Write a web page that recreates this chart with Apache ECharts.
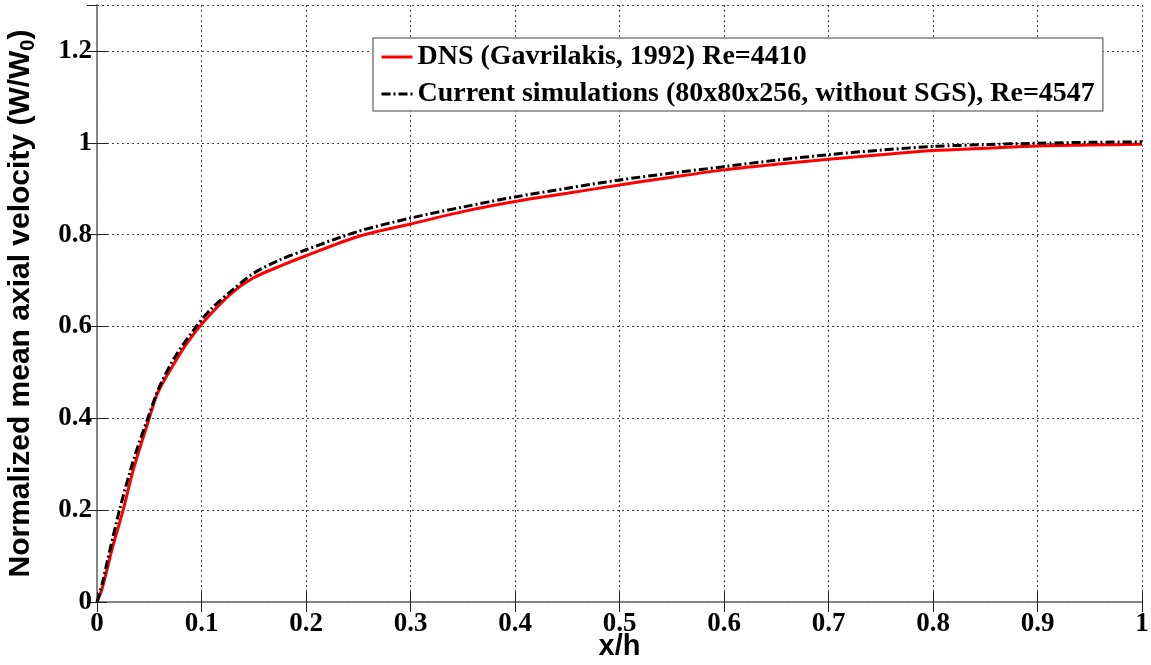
<!DOCTYPE html>
<html>
<head>
<meta charset="utf-8">
<script src="https://cdn.jsdelivr.net/npm/echarts@6/dist/echarts.min.js"></script>
<style>
  html, body { margin: 0; padding: 0; background: #fff; }
  #chart { width: 1151px; height: 665px; }
</style>
</head>
<body>
<div id="chart"></div>
<script>
// Mean axial velocity profiles, x/h versus W/W0
const seriesNames = [
  'DNS (Gavrilakis, 1992) Re=4410',
  'Current simulations (80x80x256, without SGS), Re=4547'
];

const dnsX = [0, 0.005, 0.015, 0.025, 0.035, 0.05, 0.058, 0.074, 0.085, 0.1, 0.127, 0.149, 0.178, 0.2, 0.25, 0.3, 0.35, 0.4, 0.45, 0.5, 0.55, 0.6, 0.65, 0.7, 0.75, 0.8, 0.85, 0.9, 0.95, 1.0];
const dnsY = [0, 0.03, 0.12, 0.2, 0.29, 0.40, 0.455, 0.52, 0.56, 0.605, 0.669, 0.705, 0.734, 0.754, 0.796, 0.823, 0.85, 0.872, 0.89, 0.908, 0.925, 0.941, 0.953, 0.964, 0.974, 0.983, 0.988, 0.993, 0.995, 0.997];

const simX = [0, 0.005, 0.01, 0.0215, 0.035, 0.0486, 0.06, 0.075, 0.095, 0.11, 0.13, 0.15, 0.175, 0.2, 0.25, 0.3, 0.35, 0.4, 0.45, 0.5, 0.55, 0.6, 0.65, 0.7, 0.75, 0.8, 0.85, 0.9, 0.95, 1.0];
const simY = [0, 0.04, 0.09, 0.2, 0.31, 0.4, 0.47, 0.535, 0.6, 0.64, 0.68, 0.716, 0.745, 0.767, 0.807, 0.836, 0.86, 0.882, 0.901, 0.919, 0.934, 0.948, 0.962, 0.974, 0.984, 0.992, 0.996, 0.999, 1.001, 1.002];

const xTitle = 'x/h';
const yTitle = 'Normalized mean axial velocity (W/W{sub|0})';

const pair = (xs, ys) => xs.map((x, i) => [x, ys[i]]);

const serifBold = { fontFamily: 'Liberation Serif', fontWeight: 'bold', color: '#000' };
const sansBold = { fontFamily: 'Liberation Sans', fontWeight: 'bold', color: '#000' };
const gridDots = { show: true, lineStyle: { color: '#444', type: [2, 3], width: 1 } };
const boxLine = { show: true, lineStyle: { color: '#808080', width: 1.5 } };
const innerTick = { show: true, inside: true, length: 10, lineStyle: { color: '#222', width: 1 } };

const chart = echarts.init(document.getElementById('chart'), null, { renderer: 'canvas' });
chart.setOption({
  backgroundColor: '#fff',
  animation: false,
  grid: { left: 97, right: 9, top: 5, bottom: 63, containLabel: false, outerBoundsMode: 'none' },
  legend: {
    data: seriesNames,
    orient: 'vertical',
    left: 373,
    top: 38,
    itemWidth: 31,
    itemHeight: 14,
    itemGap: 9,
    padding: [5, 8, 3, 7],
    backgroundColor: '#fff',
    borderColor: '#808080',
    borderWidth: 1.5,
    borderRadius: 0,
    itemStyle: { opacity: 0 },
    lineStyle: { width: 3 },
    textStyle: Object.assign({ fontSize: 28, lineHeight: 28 }, serifBold)
  },
  xAxis: [{
    type: 'value', min: 0, max: 1, interval: 0.1,
    name: xTitle, nameLocation: 'middle', nameGap: 30, nameMoveOverlap: false,
    nameTextStyle: Object.assign({ fontSize: 29 }, sansBold),
    axisLine: boxLine, axisTick: innerTick, splitLine: gridDots,
    axisLabel: Object.assign({ fontSize: 27, margin: 9 }, serifBold)
  }, {
    type: 'value', position: 'top', min: 0, max: 1, interval: 0.1,
    axisLine: boxLine, axisTick: innerTick, splitLine: { show: false },
    axisLabel: { show: false }
  }],
  yAxis: [{
    type: 'value', min: 0, max: 1.3, interval: 0.2,
    name: yTitle, nameLocation: 'middle', nameGap: 59, nameRotate: 90, nameMoveOverlap: false,
    nameTextStyle: Object.assign({
      fontSize: 30,
      rich: { sub: Object.assign({ fontSize: 20, verticalAlign: 'bottom', padding: [15, 0, 0, 0] }, sansBold) }
    }, sansBold),
    axisLine: boxLine, axisTick: innerTick, splitLine: gridDots,
    axisLabel: Object.assign({ fontSize: 27, margin: 5, showMaxLabel: false }, serifBold)
  }, {
    type: 'value', position: 'right', min: 0, max: 1.3, interval: 0.2,
    axisLine: boxLine, axisTick: innerTick, splitLine: { show: false },
    axisLabel: { show: false }
  }],
  series: [{
    name: seriesNames[0], type: 'line', data: pair(dnsX, dnsY),
    showSymbol: false, symbol: 'none', smooth: 0.3,
    lineStyle: { color: '#ff0000', width: 3 }, itemStyle: { color: '#ff0000' }, z: 3
  }, {
    name: seriesNames[1], type: 'line', data: pair(simX, simY),
    showSymbol: false, symbol: 'none', smooth: 0.3,
    lineStyle: { color: '#000', width: 3, type: [9, 3, 2, 3] }, itemStyle: { color: '#000' }, z: 4
  }]
});
</script>
</body>
</html>
